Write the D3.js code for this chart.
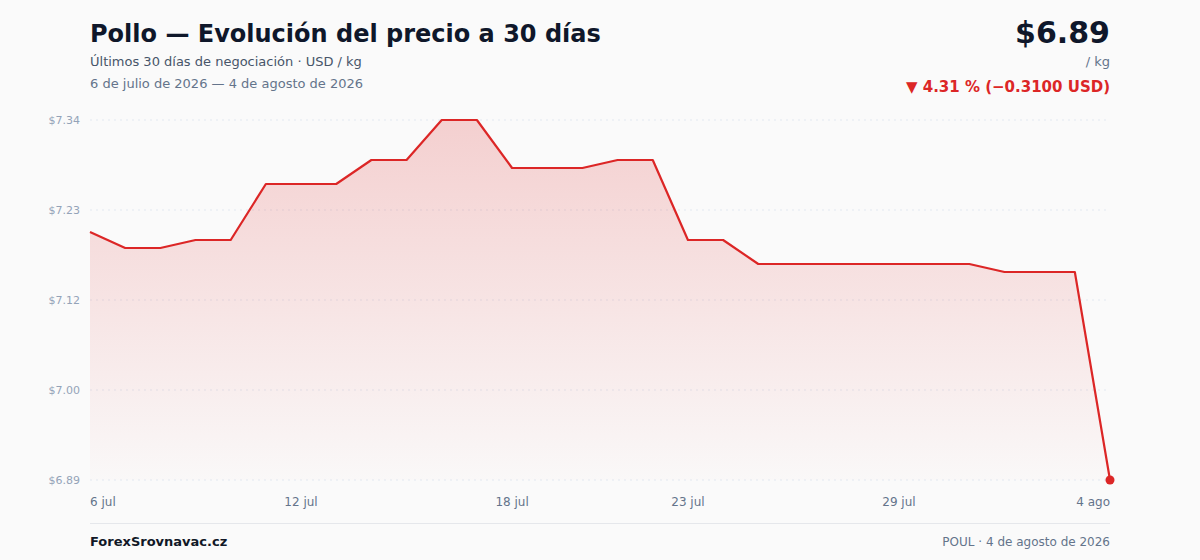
<!DOCTYPE html>
<html><head><meta charset="utf-8">
<script src="https://cdn.jsdelivr.net/npm/d3@7"></script>
<style>
html,body{margin:0;padding:0;background:#fafafa;}
svg{display:block;font-family:"DejaVu Sans",sans-serif;}
</style></head>
<body><svg id="c" width="1200" height="560"></svg>
<script>
const dates = ["6 jul","7 jul","8 jul","9 jul","10 jul","11 jul","12 jul","13 jul","14 jul","15 jul",
  "16 jul","17 jul","18 jul","19 jul","20 jul","21 jul","22 jul","23 jul","24 jul","25 jul",
  "26 jul","27 jul","28 jul","29 jul","30 jul","31 jul","1 ago","2 ago","3 ago","4 ago"];
const prices = [7.20,7.18,7.18,7.19,7.19,7.26,7.26,7.26,7.29,7.29,
  7.34,7.34,7.28,7.28,7.28,7.29,7.29,7.19,7.19,7.16,
  7.16,7.16,7.16,7.16,7.16,7.16,7.15,7.15,7.15,6.89];
const xTickIdx = [0,6,12,17,23,29];
const yTickLabels = ["$6.89","$7.00","$7.12","$7.23","$7.34"];

const svg = d3.select("#c");
const L = 90, R = 1110, T = 120, B = 480;
const x = d3.scaleLinear().domain([0, prices.length-1]).range([L, R]);
const yMin = d3.min(prices), yMax = d3.max(prices);
const y = d3.scaleLinear().domain([yMin, yMax]).range([B, T]);
const yTicks = d3.range(5).map(i => yMin + i*(yMax-yMin)/4);
const red = "#dc2626";

// header
svg.append("text").attr("x",90).attr("y",42).attr("font-size",24).attr("font-weight","bold").attr("fill","#0f172a")
  .text("Pollo — Evolución del precio a 30 días");
svg.append("text").attr("x",90).attr("y",66).attr("font-size",13).attr("fill","#475569")
  .text("Últimos 30 días de negociación · USD / kg");
svg.append("text").attr("x",90).attr("y",88).attr("font-size",13).attr("fill","#64748b")
  .text("6 de julio de 2026 — 4 de agosto de 2026");
const last = prices[prices.length-1], first = prices[0];
const diff = last - first, pct = diff/first*100;
svg.append("text").attr("x",1110).attr("y",43).attr("text-anchor","end").attr("font-size",30).attr("font-weight","bold").attr("fill","#0f172a")
  .text("$" + last.toFixed(2));
svg.append("text").attr("x",1110).attr("y",66).attr("text-anchor","end").attr("font-size",13).attr("fill","#64748b").text("/ kg");
svg.append("text").attr("x",1110).attr("y",92).attr("text-anchor","end").attr("font-size",15).attr("font-weight","bold").attr("fill",red)
  .text("▼ " + Math.abs(pct).toFixed(2) + " % (−" + Math.abs(diff).toFixed(4) + " USD)");

// gradient
const defs = svg.append("defs");
const g = defs.append("linearGradient").attr("id","fillg")
  .attr("gradientUnits","userSpaceOnUse").attr("x1",0).attr("y1",T).attr("x2",0).attr("y2",B);
g.append("stop").attr("offset","0%").attr("stop-color",red).attr("stop-opacity",0.2);
g.append("stop").attr("offset","100%").attr("stop-color",red).attr("stop-opacity",0.01);

// grid
svg.append("g").selectAll("line").data(yTicks).join("line")
  .attr("x1",L).attr("x2",R).attr("y1",d=>y(d)).attr("y2",d=>y(d))
  .attr("stroke","#e2e8f0").attr("stroke-width",1).attr("stroke-dasharray","2,4");
svg.append("g").selectAll("text").data(yTicks).join("text")
  .attr("x",80).attr("y",d=>y(d)+4).attr("text-anchor","end").attr("font-size",11).attr("fill","#94a3b8")
  .text((d,i)=>yTickLabels[i]);

// area + line
svg.append("path").datum(prices)
  .attr("d", d3.area().x((d,i)=>x(i)).y0(B).y1(d=>y(d)))
  .attr("fill","url(#fillg)");
svg.append("path").datum(prices)
  .attr("d", d3.line().x((d,i)=>x(i)).y(d=>y(d)))
  .attr("fill","none").attr("stroke",red).attr("stroke-width",2.2).attr("stroke-linejoin","round");
svg.append("circle").attr("cx",x(prices.length-1)).attr("cy",y(last)).attr("r",4.5).attr("fill",red);

// x labels
svg.append("g").selectAll("text").data(xTickIdx).join("text")
  .attr("x",d=>x(d)).attr("y",506).attr("font-size",12).attr("fill","#64748b")
  .attr("text-anchor",(d,i)=> i===0 ? "start" : (i===xTickIdx.length-1 ? "end" : "middle"))
  .text(d=>dates[d]);

// footer
svg.append("line").attr("x1",L).attr("x2",R).attr("y1",523.5).attr("y2",523.5).attr("stroke","#e5e7eb");
svg.append("text").attr("x",90).attr("y",546).attr("font-size",13).attr("font-weight","bold").attr("fill","#111827").text("ForexSrovnavac.cz");
svg.append("text").attr("x",1110).attr("y",546).attr("text-anchor","end").attr("font-size",12).attr("fill","#64748b").text("POUL · 4 de agosto de 2026");
</script></body></html>
